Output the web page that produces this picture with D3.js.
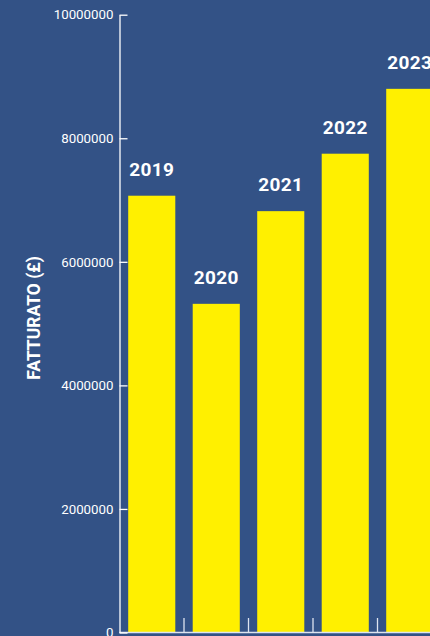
<!DOCTYPE html>
<html>
<head>
<meta charset="utf-8">
<script src="https://cdn.jsdelivr.net/npm/d3@7"></script>
<style>
  html, body { margin: 0; padding: 0; background: #335286; overflow: hidden; }
  svg { display: block; }
</style>
</head>
<body>
<svg id="chart" width="430" height="636"></svg>
<script>
const years = ["2019", "2020", "2021", "2022", "2023"];
const revenue = [7070000, 5320000, 6820000, 7750000, 8800000];
const yTicks = [0, 2000000, 4000000, 6000000, 8000000, 10000000];
const yTitle = "FATTURATO (£)";

const W = 430, H = 636;
const svg = d3.select("#chart");
svg.append("rect").attr("width", W).attr("height", H).attr("fill", "#335286");

const x0 = 119.5, step = 64.5;
const x = d3.scaleBand()
  .domain(years)
  .range([x0, x0 + step * years.length])
  .paddingInner(0.27)
  .paddingOuter(0.135);

const y = d3.scaleLinear().domain([0, 10000000]).range([632.5, 14.7]);

const data = years.map((yr, i) => ({ year: yr, value: revenue[i] }));

// bars
svg.append("g").selectAll("rect")
  .data(data)
  .join("rect")
  .attr("x", d => x(d.year))
  .attr("y", d => y(d.value))
  .attr("width", x.bandwidth())
  .attr("height", d => y(0) - y(d.value))
  .attr("fill", "#fff000");

// bar labels
svg.append("g").selectAll("text")
  .data(data)
  .join("text")
  .attr("x", d => x(d.year) + x.bandwidth() / 2)
  .attr("y", d => y(d.value) - 20)
  .attr("text-anchor", "middle")
  .attr("fill", "#ffffff")
  .attr("font-family", "Roboto, sans-serif")
  .attr("font-weight", "bold")
  .attr("font-size", "19px")
  .attr("letter-spacing", "0.4px")
  .text(d => d.year);

// x axis line with ticks at band boundaries pointing up
const boundaries = years.slice(1).map(yr => x(yr) - x.step() * x.paddingInner() / 2);
const gx = svg.append("g");
gx.append("line")
  .attr("x1", x0).attr("x2", W + 20)
  .attr("y1", y(0)).attr("y2", y(0))
  .attr("stroke", "#dde4f0").attr("stroke-width", 1.5);
gx.selectAll("line.tick")
  .data(boundaries)
  .join("line")
  .attr("class", "tick")
  .attr("x1", d => d).attr("x2", d => d)
  .attr("y1", y(0)).attr("y2", y(0) - 14.5)
  .attr("stroke", "#dde4f0").attr("stroke-width", 1.3);

// y axis
const gy = svg.append("g")
  .attr("transform", `translate(${x0},0)`)
  .call(d3.axisLeft(y).tickValues(yTicks).tickFormat(d3.format("d")).tickSize(-8).tickSizeOuter(0).tickPadding(6));
gy.select(".domain").attr("stroke", "#ffffff").attr("stroke-width", 1.3);
gy.selectAll(".tick line").attr("stroke", "#ffffff").attr("stroke-width", 1.3);
gy.selectAll(".tick text")
  .attr("fill", "#ffffff")
  .attr("font-family", "Roboto, sans-serif")
  .attr("font-size", "13.3px");

// y title
svg.append("text")
  .attr("transform", `translate(39.5,318) rotate(-90)`)
  .attr("text-anchor", "middle")
  .attr("fill", "#ffffff")
  .attr("font-family", "Roboto, sans-serif")
  .attr("font-weight", "bold")
  .attr("font-size", "17.5px")
  .text(yTitle);
</script>
</body>
</html>
